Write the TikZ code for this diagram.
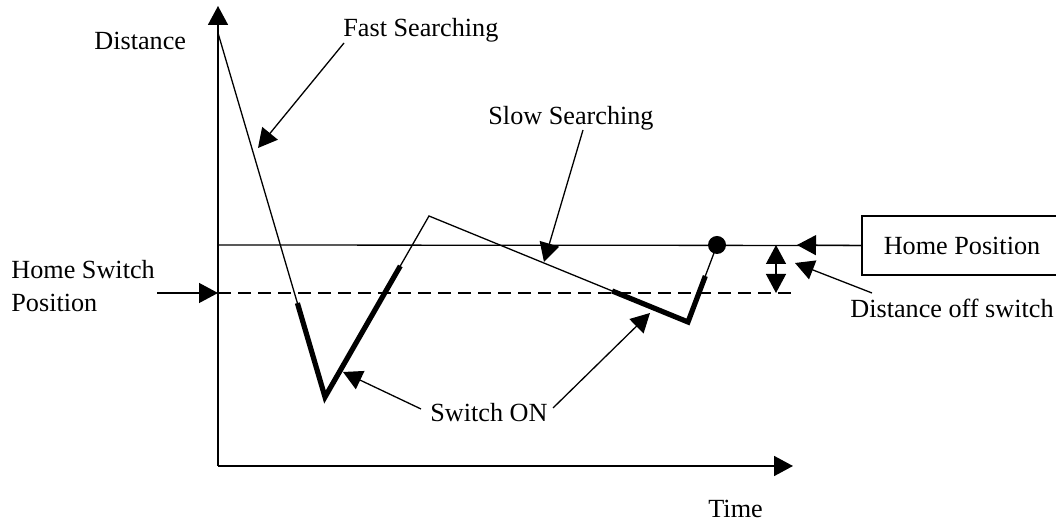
\documentclass[tikz,border=0pt]{standalone}
\usepackage{fontspec}
\setmainfont{Liberation Serif}
\usetikzlibrary{arrows.meta,calc}
\begin{document}
\begin{tikzpicture}[x=0.5pt,y=-0.5pt,
  lbl/.style={font=\fontsize{13.1pt}{16pt}\selectfont, inner sep=0pt, anchor=base west},
  tip/.style={-{Triangle[length=9.5pt,width=10pt]}},
  axis/.style={line width=0.85pt},
  thin/.style={line width=0.65pt},
  onseg/.style={line width=2.6pt},
  dashline/.style={line width=1.2pt, dash pattern=on 6.5pt off 3.5pt}]
\useasboundingbox (0,0) rectangle (1056,522);
\clip (0,0) rectangle (1056,522);
% axes
\coordinate (O) at (218,466);
\coordinate (ytop) at (218,6);
\coordinate (xend) at (793,466);
\draw[axis,tip] (O) -- (ytop);
\draw[axis,tip] (O) -- (xend);
% reference lines
\coordinate (hpL) at (218,245);
\coordinate (hsL) at (218,293);
\coordinate (hsR) at (795,293);
\node[draw, line width=0.85pt, minimum width=100pt, minimum height=29.5pt, inner sep=0pt,
      font=\fontsize{13.1pt}{16pt}\selectfont] (hp) at (962,245.5) {Home Position};
\draw[thin] (hpL) -- (hp.west);
\draw[dashline] (hsL) -- (hsR);
% motion curve
\coordinate (A) at (218,33);
\coordinate (B) at (325,397);
\coordinate (C) at (429,216);
\coordinate (D) at (688,322);
\coordinate (E) at (717,245);
\draw[thin, line join=miter] (A) -- (B) -- (C) -- (D) -- (E);
\draw[onseg, line join=miter] ($(A)!0.742!(B)$) -- (B) -- ($(B)!0.724!(C)$);
\draw[onseg, line join=miter] ($(C)!0.707!(D)$) -- (D) -- ($(D)!0.597!(E)$);
\fill (E) circle (4.5pt);
% labels
\node[lbl] (dist) at (94,50) {Distance};
\node[lbl] (time) at (708,518) {Time};
\node[lbl] (fast) at (343,37) {Fast Searching};
\node[lbl] (slow) at (488,125) {Slow Searching};
\node[lbl] (hs1) at (11,279) {Home Switch};
\node[lbl] (hs2) at (11,312) {Position};
\node[lbl] (swon) at (430,422) {Switch ON};
\node[lbl] (doff) at (850,318) {Distance off switch};
% label arrows
\coordinate (fastS) at (344,43);   \coordinate (fastT) at (258,148);
\coordinate (slowS) at (583,130);  \coordinate (slowT) at (544,262);
\coordinate (swS1) at (421,409);   \coordinate (swT1) at (343,372);
\coordinate (swS2) at (553,408);   \coordinate (swT2) at (650,313);
\coordinate (hsS) at (157,293);
\coordinate (hpT) at (797,245);
\coordinate (doS) at (872,293);    \coordinate (doT) at (795,263);
\coordinate (dd1) at (776,245);    \coordinate (dd2) at (776,293);
\draw[thin,tip] (fastS) -- (fastT);
\draw[thin,tip] (slowS) -- (slowT);
\draw[thin,tip] (swS1) -- (swT1);
\draw[thin,tip] (swS2) -- (swT2);
\draw[thin,tip] (hsS) -- (hsL);
\draw[thin,tip] (hp.west) -- (hpT);
\draw[thin,tip] (doS) -- (doT);
\draw[thin,{Triangle[length=9.5pt,width=10pt]}-{Triangle[length=9.5pt,width=10pt]}] (dd1) -- (dd2);
\end{tikzpicture}
\end{document}
